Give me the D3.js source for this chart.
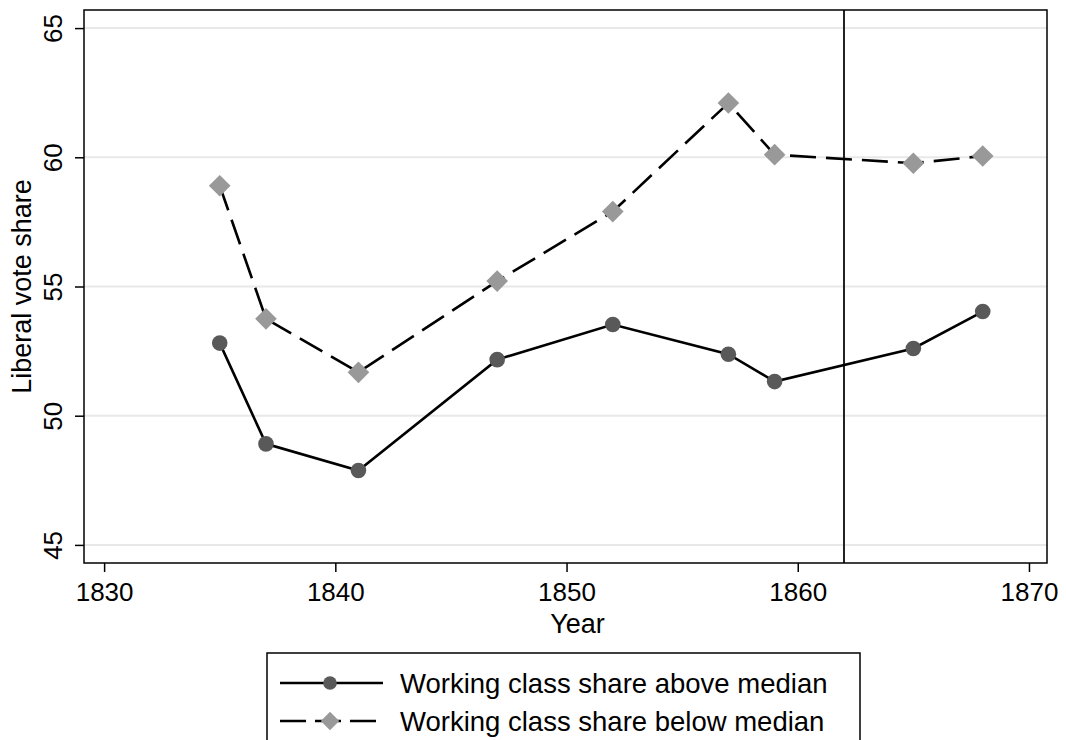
<!DOCTYPE html>
<html>
<head>
<meta charset="utf-8">
<script src="https://cdn.jsdelivr.net/npm/d3@7"></script>
<style>
  body { margin: 0; background: #fff; }
  svg { display: block; font-family: "Liberation Sans", Arial, sans-serif; }
</style>
</head>
<body>
<div id="chart"></div>
<script>
// election years and liberal vote share by group
const years = [1835, 1837, 1841, 1847, 1852, 1857, 1859, 1865, 1868];
const aboveMedian = [52.81, 48.91, 47.88, 52.17, 53.53, 52.38, 51.32, 52.60, 54.03];
const belowMedian = [58.90, 53.75, 51.68, 55.21, 57.90, 62.10, 60.10, 59.77, 60.05];
const xTicks = [1830, 1840, 1850, 1860, 1870];
const yTicks = [45, 50, 55, 60, 65];
const reformYear = 1862;
const seriesNames = ["Working class share above median", "Working class share below median"];

const width = 1066, height = 740;
const margin = { top: 10, right: 19, bottom: 177, left: 84 };
const innerW = width - margin.left - margin.right;
const innerH = height - margin.top - margin.bottom;

const svg = d3.select("#chart").append("svg")
    .attr("width", width)
    .attr("height", height);

const g = svg.append("g")
    .attr("transform", `translate(${margin.left},${margin.top})`);

const x = d3.scaleLinear()
    .domain([1829.13, 1870.78])
    .range([0, innerW]);
const y = d3.scaleLinear()
    .domain([44.3, 65.7])
    .range([innerH, 0]);

// grid lines
g.append("g")
    .selectAll("line")
    .data(yTicks)
    .enter()
    .append("line")
        .attr("x1", 0)
        .attr("x2", innerW)
        .attr("y1", d => y(d))
        .attr("y2", d => y(d))
        .attr("stroke", "#e8e8e8")
        .attr("stroke-width", 2);

// axes
const xAxis = g.append("g")
    .attr("transform", `translate(0,${innerH})`)
    .call(d3.axisBottom(x).tickValues(xTicks).tickFormat(d3.format("d")).tickSize(9));
const yAxis = g.append("g")
    .call(d3.axisLeft(y).tickValues(yTicks).tickSize(9));

[xAxis, yAxis].forEach(a => {
    a.select(".domain").remove();
    a.selectAll(".tick line").attr("stroke", "#000").attr("stroke-width", 1.5);
    a.selectAll(".tick text").attr("fill", "#000").style("font-size", "26px");
});
xAxis.selectAll(".tick text")
    .attr("y", 38)
    .attr("dy", 0);
yAxis.selectAll(".tick text")
    .attr("text-anchor", "middle")
    .attr("dy", 0)
    .attr("x", 0)
    .attr("y", 0)
    .attr("transform", "translate(-22,0) rotate(-90)");

// axis titles
g.append("text")
    .attr("x", x(1850) + 11)
    .attr("y", innerH + 70)
    .attr("text-anchor", "middle")
    .style("font-size", "27px")
    .text("Year");
g.append("text")
    .attr("transform", `translate(${-53},${y(55)}) rotate(-90)`)
    .attr("text-anchor", "middle")
    .style("font-size", "27px")
    .text("Liberal vote share");

// vertical reference line
g.append("line")
    .attr("x1", x(reformYear))
    .attr("x2", x(reformYear))
    .attr("y1", 0)
    .attr("y2", innerH)
    .attr("stroke", "#222")
    .attr("stroke-width", 2);

const line = d3.line()
    .x(d => x(d[0]))
    .y(d => y(d[1]));

const aboveData = years.map((yr, i) => [yr, aboveMedian[i]]);
const belowData = years.map((yr, i) => [yr, belowMedian[i]]);

g.append("path")
    .datum(belowData)
    .attr("d", line)
    .attr("fill", "none")
    .attr("stroke", "#000")
    .attr("stroke-width", 2.6)
    .attr("stroke-dasharray", "26,10");

g.append("path")
    .datum(aboveData)
    .attr("d", line)
    .attr("fill", "none")
    .attr("stroke", "#000")
    .attr("stroke-width", 2.6);

const diamond = d3.symbol().type(d3.symbolSquare).size(235);

g.append("g")
    .selectAll("path")
    .data(belowData)
    .enter()
    .append("path")
        .attr("d", diamond)
        .attr("transform", d => `translate(${x(d[0])},${y(d[1])}) rotate(45)`)
        .attr("fill", "#999999");

g.append("g")
    .selectAll("circle")
    .data(aboveData)
    .enter()
    .append("circle")
        .attr("cx", d => x(d[0]))
        .attr("cy", d => y(d[1]))
        .attr("r", 7.8)
        .attr("fill", "#595959");

// frame
g.append("rect")
    .attr("x", 0)
    .attr("y", 0)
    .attr("width", innerW)
    .attr("height", innerH)
    .attr("fill", "none")
    .attr("stroke", "#000")
    .attr("stroke-width", 1.5);

// legend
const legend = svg.append("g").attr("transform", "translate(267,653)");
legend.append("rect")
    .attr("x", 0)
    .attr("y", 0)
    .attr("width", 593)
    .attr("height", 100)
    .attr("fill", "#fff")
    .attr("stroke", "#000")
    .attr("stroke-width", 1.5);

const rows = [
    { name: seriesNames[0], y: 30, dash: null, marker: "circle" },
    { name: seriesNames[1], y: 68, dash: "26,9", marker: "diamond" }
];
rows.forEach(r => {
    const row = legend.append("g").attr("transform", `translate(0,${r.y})`);
    row.append("line")
        .attr("x1", 13)
        .attr("x2", 116)
        .attr("y1", 0)
        .attr("y2", 0)
        .attr("stroke", "#000")
        .attr("stroke-width", 2.6)
        .attr("stroke-dasharray", r.dash);
    if (r.marker === "circle") {
        row.append("circle").attr("cx", 63).attr("cy", 0).attr("r", 6.8).attr("fill", "#595959");
    } else {
        row.append("path")
            .attr("d", d3.symbol().type(d3.symbolSquare).size(170))
            .attr("transform", "translate(63,0) rotate(45)")
            .attr("fill", "#999999");
    }
    row.append("text")
        .attr("x", 133)
        .attr("y", 10)
        .style("font-size", "27.5px")
        .text(r.name);
});
</script>
</body>
</html>
